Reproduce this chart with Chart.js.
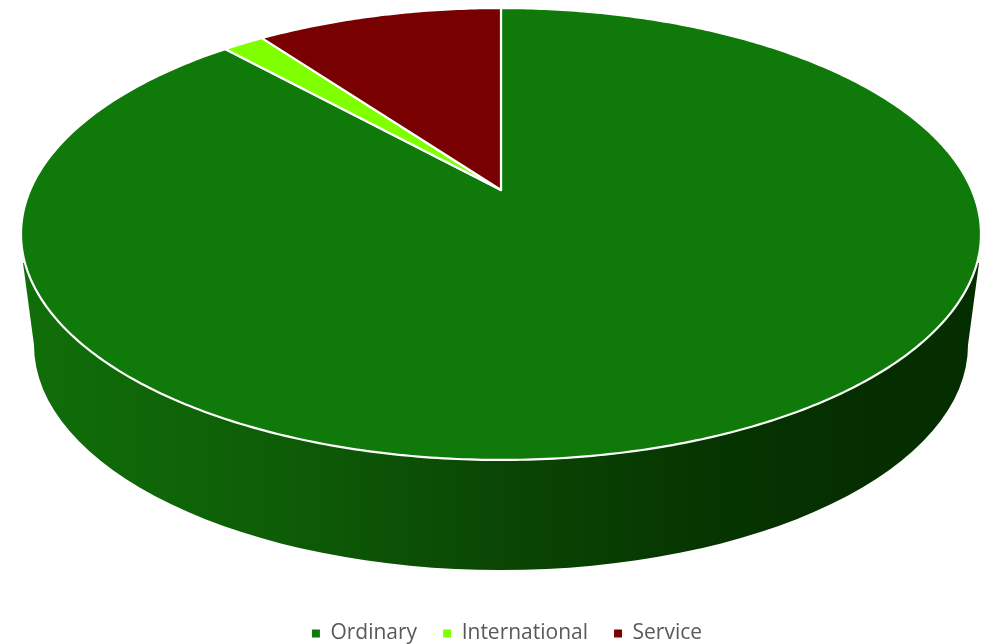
<!DOCTYPE html>
<html>
<head>
<meta charset="utf-8">
<style>
  html, body { margin: 0; padding: 0; background: #fff; overflow: hidden; }
  #box { width: 990px; height: 644px; }
</style>
<script src="https://cdn.jsdelivr.net/npm/chart.js@4"></script>
</head>
<body>
<div id="box"><canvas id="pieChart"></canvas></div>
<script>
const categories = ['Ordinary', 'International', 'Service'];
const shares = [88.3, 1.7, 10.0];
const sliceColors = ['#0f7a0a', '#7fff00', '#780000'];

// Tilted disc: the apex sits above the middle of the ellipse, so use a perspective mapping
const CX = 501, APEX_Y = 190;
const PERSP = 0.1947, SCALE_X = 470.8, SCALE_Y = 217.4;

// Lower rim of the side wall
const RIM_RX = 467, RIM_CY = 345, RIM_RY = 225;
const WALL_TOP_Y = 263;

function project(angle) {
    const x = Math.cos(angle), z = Math.sin(angle);
    const w = 1 - PERSP * z;
    return [CX + SCALE_X * x / w, APEX_Y + SCALE_Y * z / w];
}

function drawWall(c) {
    // half width of the top face at the height where the wall starts
    const topDx = 478;
    const grad = c.createLinearGradient(CX - 480, 0, CX + 480, 0);
    grad.addColorStop(0, '#106e08');
    grad.addColorStop(0.15, '#0f6508');
    grad.addColorStop(0.3, '#0d5a06');
    grad.addColorStop(0.5, '#0a4604');
    grad.addColorStop(0.72, '#063500');
    grad.addColorStop(0.88, '#052e00');
    grad.addColorStop(1, '#052e00');

    c.beginPath();
    c.moveTo(CX - topDx, WALL_TOP_Y);
    c.lineTo(CX - RIM_RX, RIM_CY);
    c.ellipse(CX, RIM_CY, RIM_RX, RIM_RY, 0, Math.PI, 0, true);
    c.lineTo(CX + topDx, WALL_TOP_Y);
    c.closePath();
    c.fillStyle = grad;
    c.fill();
}

const tiltedPie = {
    id: 'tiltedPie',
    beforeDatasetsDraw(chart) {
        const c = chart.ctx;
        c.save();
        drawWall(c);
        chart.getDatasetMeta(0).data.forEach(arc => {
            c.beginPath();
            c.moveTo(CX, APEX_Y);
            const steps = Math.max(2, Math.ceil((arc.endAngle - arc.startAngle) * 90));
            for (let i = 0; i <= steps; i++) {
                const p = project(arc.startAngle + (arc.endAngle - arc.startAngle) * i / steps);
                c.lineTo(p[0], p[1]);
            }
            c.closePath();
            c.fillStyle = arc.options.backgroundColor;
            c.fill();
            c.strokeStyle = '#ffffff';
            c.lineWidth = 2.2;
            c.lineJoin = 'round';
            c.stroke();
        });
        c.restore();
        return false; // arcs already painted above
    }
};

new Chart(document.getElementById('pieChart'), {
    type: 'pie',
    data: {
        labels: categories,
        datasets: [{
            data: shares,
            backgroundColor: sliceColors,
            borderWidth: 0
        }]
    },
    plugins: [tiltedPie],
    options: {
        responsive: true,
        maintainAspectRatio: false,
        animation: false,
        layout: { padding: { left: 24, bottom: -10 } },
        plugins: {
            tooltip: { enabled: false },
            legend: {
                position: 'bottom',
                labels: {
                    boxWidth: 8,
                    boxHeight: 8,
                    padding: 26,
                    color: '#595959',
                    font: { family: '"Open Sans", sans-serif', size: 21 }
                }
            }
        }
    }
});
</script>
</body>
</html>
